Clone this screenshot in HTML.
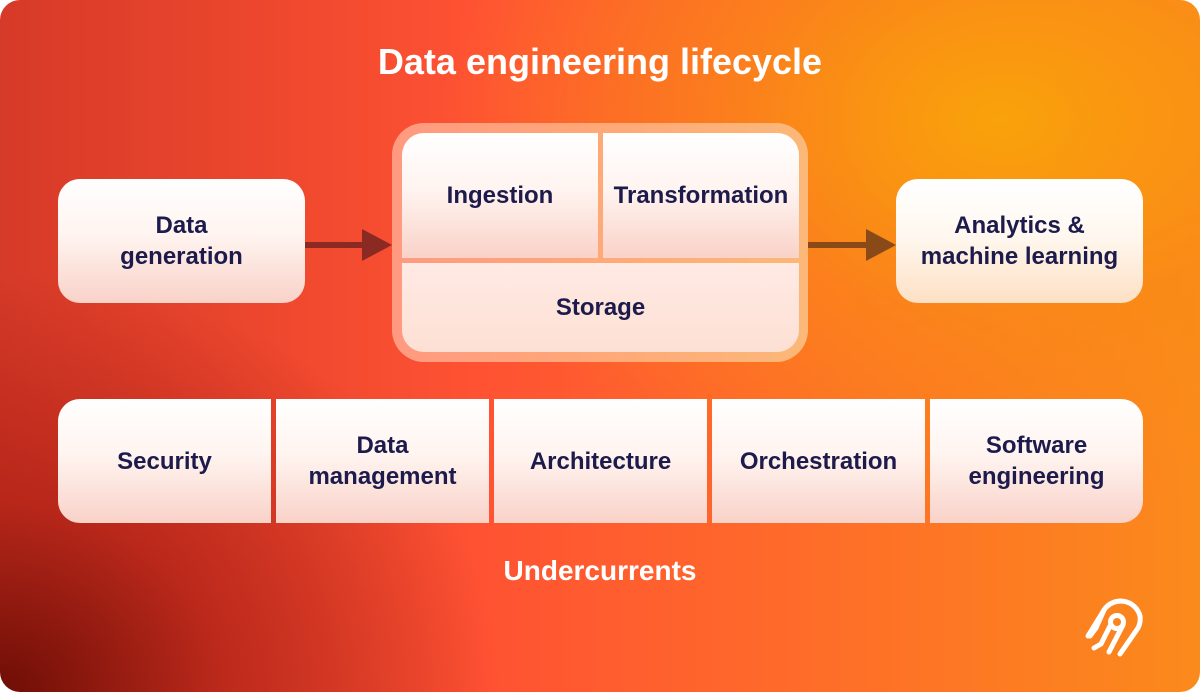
<!DOCTYPE html>
<html><head><style>
*{margin:0;padding:0;box-sizing:border-box}
body{width:1200px;height:692px;overflow:hidden;background:#fff}
#c{position:absolute;left:0;top:0;width:1200px;height:692px;border-radius:20px;overflow:hidden;
background:radial-gradient(ellipse 700px 500px at 1000px 120px,#f9a20a 0%,rgba(249,140,20,0.6) 40%,rgba(255,90,50,0) 80%),
radial-gradient(ellipse 500px 420px at 0px 692px,#6e0e06 0%,rgba(170,30,20,0.7) 45%,rgba(255,80,50,0) 100%),
linear-gradient(90deg,#d63a28 0%,#ff5233 40%,#ff6a2a 65%,#fb8a1c 100%);font-family:"Liberation Sans",sans-serif}
.t{position:absolute;color:#fff;font-weight:bold;text-align:center;width:1200px;left:0}
.b{position:absolute;background:linear-gradient(180deg,#fff 0%,#fff4f0 45%,#f9d2c8 100%);display:flex;align-items:center;justify-content:center;text-align:center;color:#1d1b4c;font-weight:bold;font-size:24px;line-height:31px}
</style></head><body><div id="c">
<div class="t" style="top:41px;font-size:36px">Data engineering lifecycle</div>
<div class="b" style="left:58px;top:179px;width:247px;height:124px;border-radius:22px">Data<br>generation</div>
<div class="b" style="left:896px;top:179px;width:247px;height:124px;border-radius:22px;background:linear-gradient(180deg,#fff 0%,#fff8f0 45%,#fde0c4 100%)">Analytics &amp;<br>machine learning</div>
<div style="position:absolute;left:305px;top:242px;width:62px;height:6px;background:#8a2a22"></div>
<div style="position:absolute;left:362px;top:229px;border-left:30px solid #8a2a22;border-top:16px solid transparent;border-bottom:16px solid transparent"></div>
<div style="position:absolute;left:808px;top:242px;width:62px;height:6px;background:#8a4a18"></div>
<div style="position:absolute;left:866px;top:229px;border-left:30px solid #8a4a18;border-top:16px solid transparent;border-bottom:16px solid transparent"></div>
<div style="position:absolute;left:392px;top:123px;width:416px;height:239px;border-radius:32px;background:linear-gradient(90deg,#ff9a80,#ffa878 50%,#fbb878)"></div>
<div class="b" style="left:402px;top:133px;width:196px;height:125px;border-radius:22px 0 0 0;align-items:flex-start;padding-top:47px">Ingestion</div>
<div class="b" style="left:603px;top:133px;width:196px;height:125px;border-radius:0 22px 0 0;align-items:flex-start;padding-top:47px">Transformation</div>
<div class="b" style="left:402px;top:263px;width:397px;height:89px;border-radius:0 0 22px 22px;background:linear-gradient(180deg,#ffeae4,#fde0d4)">Storage</div>
<div class="b" style="left:58px;top:399px;width:213px;height:124px;border-radius:22px 0 0 22px">Security</div>
<div class="b" style="left:276px;top:399px;width:213px;height:124px">Data<br>management</div>
<div class="b" style="left:494px;top:399px;width:213px;height:124px">Architecture</div>
<div class="b" style="left:712px;top:399px;width:213px;height:124px">Orchestration</div>
<div class="b" style="left:930px;top:399px;width:213px;height:124px;border-radius:0 22px 22px 0">Software<br>engineering</div>
<div class="t" style="top:555px;font-size:28px">Undercurrents</div>
<svg style="position:absolute;left:1080px;top:592px" width="72" height="68" viewBox="0 0 72 68" fill="none" stroke="#fff" stroke-width="5" stroke-linecap="round" stroke-linejoin="round">
<path d="M8 44 L24 18 A20 20 0 0 1 60 24 A20 20 0 0 1 58 36 L40 62"/>
<circle cx="37" cy="30" r="6.5"/>
<path d="M43 33 L29 60"/>
<path d="M30 34 L21 52 L14 56"/>
<path d="M24 18 L16 36 L10 44"/>
</svg>
</div></body></html>
